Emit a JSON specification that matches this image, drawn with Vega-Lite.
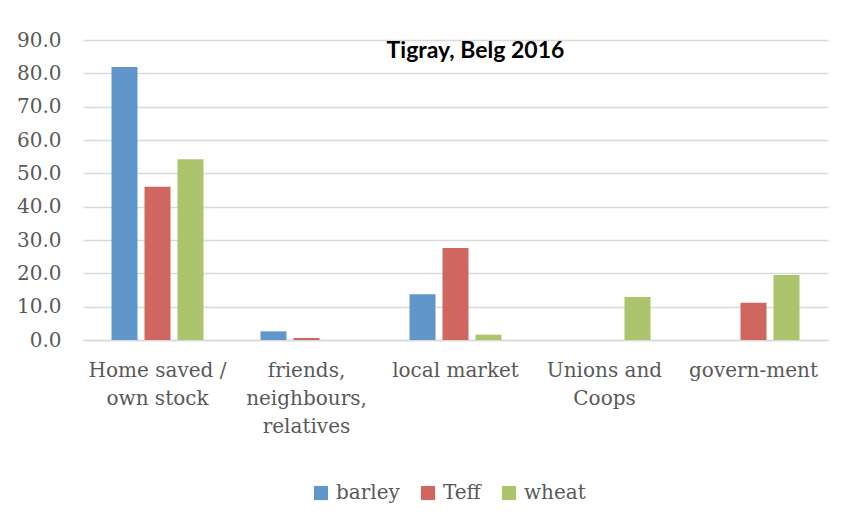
{
  "$schema": "https://vega.github.io/schema/vega-lite/v6.json",
  "autosize": "none",
  "width": 745,
  "height": 300,
  "padding": {"left": 83, "top": 40, "right": 35, "bottom": 186},
  "background": "white",
  "title": {
    "text": "Tigray, Belg 2016",
    "font": "Lato",
    "fontWeight": "bold",
    "fontSize": 23,
    "color": "#000000",
    "anchor": "middle",
    "orient": "top",
    "offset": 0,
    "dy": 33,
    "dx": 20
  },
  "data": {
    "values": [
      {"source": "Home saved /|own stock", "crop": "barley", "value": 81.9},
      {"source": "Home saved /|own stock", "crop": "Teff", "value": 46.0},
      {"source": "Home saved /|own stock", "crop": "wheat", "value": 54.2},
      {"source": "friends,|neighbours,|relatives", "crop": "barley", "value": 2.6},
      {"source": "friends,|neighbours,|relatives", "crop": "Teff", "value": 0.6},
      {"source": "local market", "crop": "barley", "value": 13.7},
      {"source": "local market", "crop": "Teff", "value": 27.6},
      {"source": "local market", "crop": "wheat", "value": 1.6},
      {"source": "Unions and|Coops", "crop": "wheat", "value": 12.9},
      {"source": "govern-ment", "crop": "Teff", "value": 11.2},
      {"source": "govern-ment", "crop": "wheat", "value": 19.5}
    ]
  },
  "mark": {"type": "bar"},
  "encoding": {
    "x": {
      "field": "source",
      "type": "nominal",
      "sort": null,
      "scale": {"paddingInner": 0, "paddingOuter": 0},
      "axis": {
        "title": null,
        "labelAngle": 0,
        "labelExpr": "split(datum.label, '|')",
        "labelFont": "DejaVu Serif",
        "labelFontSize": 20,
        "labelColor": "#595959",
        "labelLineHeight": 28,
        "labelPadding": 20,
        "labelBaseline": "top",
        "ticks": false,
        "domainColor": "#d9d9d9",
        "domainWidth": 1.5,
        "grid": false
      }
    },
    "xOffset": {
      "field": "crop",
      "type": "nominal",
      "sort": ["barley", "Teff", "wheat"],
      "scale": {"domain": ["barley", "Teff", "wheat"], "paddingInner": 0.212, "paddingOuter": 0.864}
    },
    "y": {
      "field": "value",
      "type": "quantitative",
      "scale": {"domain": [0, 90]},
      "axis": {
        "title": null,
        "values": [0, 10, 20, 30, 40, 50, 60, 70, 80, 90],
        "format": ".1f",
        "labelFont": "DejaVu Serif",
        "labelFontSize": 20,
        "labelColor": "#595959",
        "labelPadding": 22,
        "ticks": false,
        "domain": false,
        "gridColor": "#d9d9d9",
        "gridWidth": 1.5
      }
    },
    "color": {
      "field": "crop",
      "type": "nominal",
      "sort": ["barley", "Teff", "wheat"],
      "scale": {"domain": ["barley", "Teff", "wheat"], "range": ["#6096CA", "#CF6660", "#ACC46C"]},
      "legend": {
        "title": null,
        "orient": "none",
        "direction": "horizontal",
        "legendX": 228,
        "legendY": 443,
        "symbolType": "square",
        "symbolSize": 200,
        "symbolStrokeWidth": 0,
        "labelFont": "DejaVu Serif",
        "labelFontSize": 20,
        "labelColor": "#595959",
        "labelOffset": 5,
        "columnPadding": 18
      }
    }
  },
  "config": {"view": {"stroke": null}}
}
